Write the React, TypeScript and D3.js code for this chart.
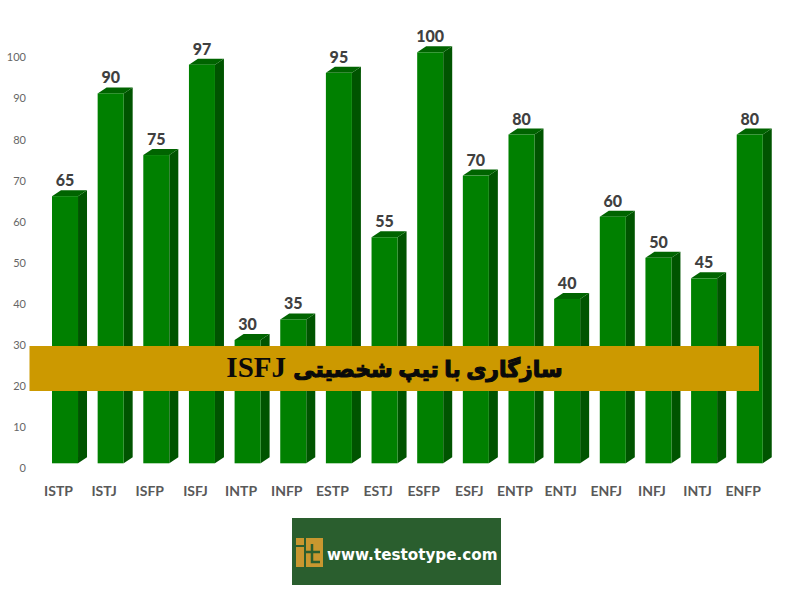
// Compatibility chart for the ISFJ personality type, pseudo-3D bars

import { useEffect } from "react";
import * as d3 from "d3";

const types = ["ISTP", "ISTJ", "ISFP", "ISFJ", "INTP", "INFP", "ESTP", "ESTJ", "ESFP", "ESFJ", "ENTP", "ENTJ", "ENFJ", "INFJ", "INTJ", "ENFP"];
const scores = [65, 90, 75, 97, 30, 35, 95, 55, 100, 70, 80, 40, 60, 50, 45, 80];
const yTicks = [0, 10, 20, 30, 40, 50, 60, 70, 80, 90, 100];
const titleFa = "سازگاری با تیپ شخصیتی";
const titleType = "ISFJ";
const site = "www.testotype.com";

const width = 800;
const height = 600;
const depthX = 9;
const depthY = 6;

export default function App() {
  useEffect(() => {
    document.body.style.margin = "0";
  }, []);

  const x = d3.scaleBand<string>().domain(types).range([52, 762.75]).paddingInner(0.43).paddingOuter(0);
  const y = d3.scaleLinear().domain([0, 100]).range([463.3, 52.3]);
  const bw = x.bandwidth();

  return (
    <svg width={width} height={height} style={{ display: "block", background: "#fff" }}>
      {/* y axis labels sit a little below their value */}
      {yTicks.map((t) => (
        <text key={t} x={26} y={y(t) + 9} textAnchor="end" fontFamily="Lato" fontSize={11} fill="#666666">
          {t}
        </text>
      ))}

      {/* bars */}
      {types.map((t, i) => {
        const left = x(t) as number;
        const right = left + bw;
        const top = y(scores[i]);
        const base = y(0);
        return (
          <g key={t}>
            <polygon
              points={`${right},${top} ${right + depthX},${top - depthY} ${right + depthX},${base - depthY} ${right},${base}`}
              fill="#005400"
            />
            <polygon
              points={`${left},${top} ${left + depthX},${top - depthY} ${right + depthX},${top - depthY} ${right},${top}`}
              fill="#006400"
            />
            <rect x={left} y={top} width={bw} height={base - top} fill="#008000" />
            <text
              x={left + bw / 2}
              y={top - 10}
              textAnchor="middle"
              fontFamily="Lato"
              fontWeight={900}
              fontSize={16}
              fill="#404040"
            >
              {scores[i]}
            </text>
            {/* category labels are shifted left of the bars in the source */}
            <text
              x={left + bw / 2 - 6.5}
              y={496}
              textAnchor="middle"
              fontFamily="Lato"
              fontWeight={700}
              fontSize={14}
              fill="#595959"
            >
              {t}
            </text>
          </g>
        );
      })}

      {/* title band */}
      <rect x={29.5} y={346} width={729.5} height={45} fill="#cc9900" />
      <text
        x={394.5}
        y={377}
        textAnchor="middle"
        direction="rtl"
        fontFamily="'Liberation Serif', 'DejaVu Sans'"
        fontWeight={700}
        fill="#0a0a0a"
      >
        <tspan fontSize={22} stroke="#0a0a0a" strokeWidth={1.1}>
          {titleFa}
        </tspan>
        <tspan fontSize={29}> {titleType}</tspan>
      </text>

      {/* logo */}
      <rect x={292} y={518} width={209} height={67} fill="#2a5e2e" />
      <g fill="#c8972f">
        <rect x={296} y={538} width={8} height={7} />
        <rect x={296} y={547} width={8} height={20} />
        <rect x={306} y={538} width={17} height={29} />
      </g>
      <path d="M306 552 H320 M312 544 V562 H320" stroke="#2a5e2e" strokeWidth={2.5} fill="none" />
      <text x={327} y={560} fontFamily="'DejaVu Sans'" fontWeight={700} fontSize={15.2} fill="#fff">
        {site}
      </text>
    </svg>
  );
}
